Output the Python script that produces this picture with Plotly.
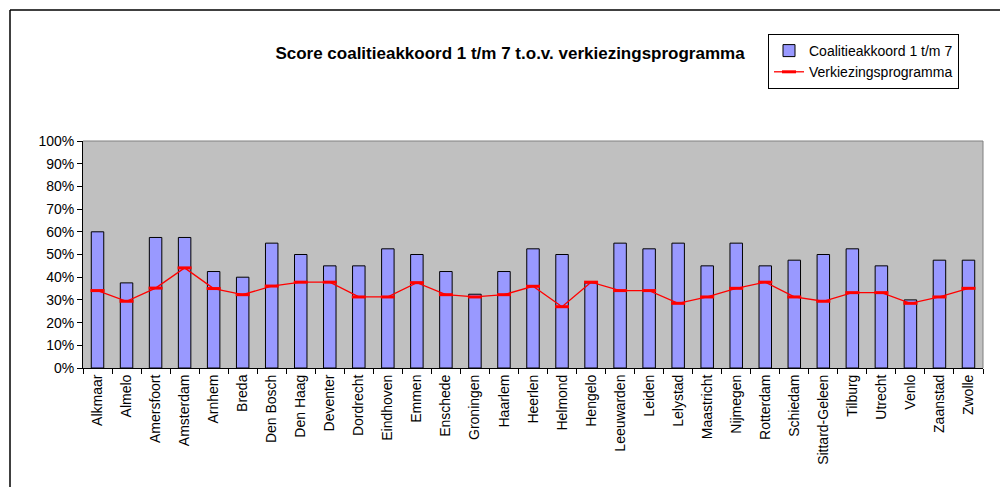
import plotly.graph_objects as go

cities = ["Alkmaar", "Almelo", "Amersfoort", "Amsterdam", "Arnhem", "Breda", "Den Bosch",
          "Den Haag", "Deventer", "Dordrecht", "Eindhoven", "Emmen", "Enschede", "Groningen",
          "Haarlem", "Heerlen", "Helmond", "Hengelo", "Leeuwarden", "Leiden", "Lelystad",
          "Maastricht", "Nijmegen", "Rotterdam", "Schiedam", "Sittard-Geleen", "Tilburg",
          "Utrecht", "Venlo", "Zaanstad", "Zwolle"]

coalitie = [0.600, 0.375, 0.575, 0.575, 0.425, 0.400, 0.550, 0.500, 0.450, 0.450, 0.525,
            0.500, 0.425, 0.325, 0.425, 0.525, 0.500, 0.375, 0.550, 0.525, 0.550, 0.450,
            0.550, 0.450, 0.475, 0.500, 0.525, 0.450, 0.300, 0.475, 0.475]

verkiezing = [0.341, 0.294, 0.352, 0.441, 0.350, 0.323, 0.361, 0.378, 0.378, 0.313, 0.313,
              0.376, 0.323, 0.313, 0.323, 0.360, 0.270, 0.378, 0.341, 0.341, 0.285, 0.313,
              0.351, 0.378, 0.313, 0.294, 0.332, 0.332, 0.285, 0.313, 0.351]

y_ticks = [i / 10 for i in range(11)]
y_ticklabels = [f"{i * 10}%" for i in range(11)]

FONT = "Liberation Sans, Arial, sans-serif"

fig = go.Figure()
fig.add_trace(go.Bar(
    x=cities, y=coalitie, name="Coalitieakkoord 1 t/m 7",
    width=0.43,
    marker=dict(color="#9999FF", line=dict(color="black", width=1)),
))
fig.add_trace(go.Scatter(
    x=cities, y=verkiezing, name="Verkiezingsprogramma",
    mode="lines+markers",
    line=dict(color="#FF0000", width=1.3),
    marker=dict(symbol="line-ew", size=10, color="#FF0000",
                line=dict(color="#FF0000", width=3)),
))

W, H = 1000, 487
L, R, T, B = 83, 17, 141, 119
pw, ph = W - L - R, H - T - B

def px(xp):
    return (xp - L) / pw

def py(yp):
    return (H - B - yp) / ph

fig.update_layout(
    width=W, height=H,
    margin=dict(l=L, r=R, t=T, b=B, pad=0, autoexpand=False),
    paper_bgcolor="white",
    plot_bgcolor="#C0C0C0",
    font=dict(family=FONT, size=14, color="black"),
    title=dict(text="<b>Score coalitieakkoord 1 t/m 7 t.o.v. verkiezingsprogramma</b>",
               x=0.51, xanchor="center", y=1 - 53 / H, yanchor="middle",
               font=dict(family=FONT, size=17, color="black")),
    showlegend=True,
    legend=dict(x=px(768), y=py(34), xanchor="left", yanchor="top",
                bordercolor="black", borderwidth=1, bgcolor="white",
                font=dict(family=FONT, size=14, color="black"),
                tracegroupgap=0, itemwidth=30),
    xaxis=dict(type="category", showgrid=False, showline=True, linecolor="black",
               linewidth=1, ticks="outside", ticklen=5, tickcolor="black",
               tickson="boundaries", tickangle=-90,
               tickfont=dict(family=FONT, size=14, color="black"),
               range=[-0.5, len(cities) - 0.5]),
    yaxis=dict(range=[0, 1], tickvals=y_ticks, ticktext=y_ticklabels,
               showgrid=False, zeroline=False, showline=True, linecolor="black",
               linewidth=1, ticks="outside", ticklen=5, tickcolor="black",
               tickfont=dict(family=FONT, size=14, color="black")),
    shapes=[
        dict(type="line", xref="paper", yref="paper", x0=0, x1=1, y0=1, y1=1,
             line=dict(color="#808080", width=1)),
        dict(type="line", xref="paper", yref="paper", x0=1, x1=1, y0=0, y1=1,
             line=dict(color="#808080", width=1)),
        dict(type="line", xref="paper", yref="paper", x0=px(10), x1=px(1000),
             y0=py(10), y1=py(10), line=dict(color="black", width=1.5)),
        dict(type="line", xref="paper", yref="paper", x0=px(10), x1=px(10),
             y0=py(10), y1=py(487), line=dict(color="black", width=1.5)),
    ],
)

fig.write_html("out.html", config={"displayModeBar": False},
               post_script="document.body.style.margin='0';")
